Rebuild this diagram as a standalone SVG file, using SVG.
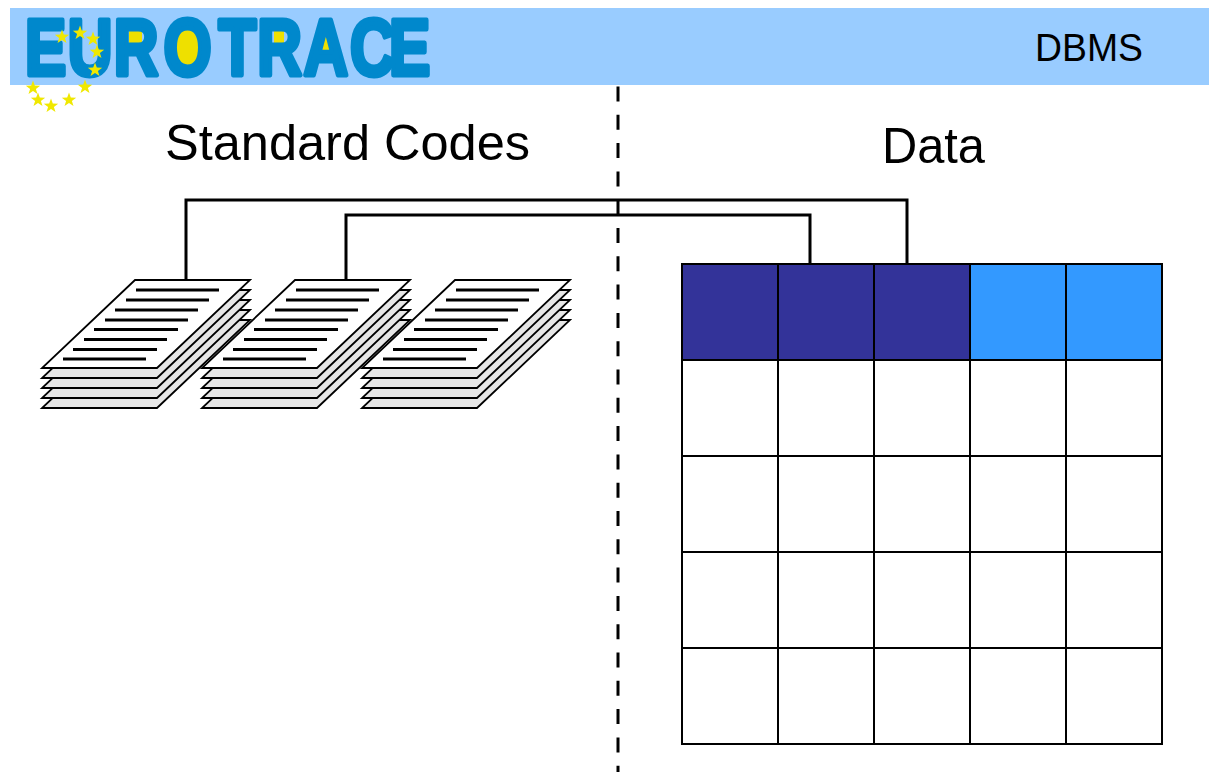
<svg xmlns="http://www.w3.org/2000/svg" width="1209" height="772" viewBox="0 0 1209 772">
<style>
.title{font-family:"Liberation Sans",Arial,sans-serif;fill:#000}
.sheet{stroke:#000;stroke-width:1.8;stroke-linejoin:miter}
.under{fill:#e6e6e6}
.top{fill:#fff}
.tl{stroke:#000;stroke-width:2.8}
.conn{fill:none;stroke:#000;stroke-width:3}
.grid{fill:none;stroke:#000;stroke-width:2}
.star{fill:#f0e800}
.ctr{fill:#eee000}
</style>
<defs>
<polygon id="star" points="0,-7.5 1.8,-2.4 7.2,-2.3 2.9,1 4.5,6.1 0,3 -4.5,6.1 -2.9,1 -7.2,-2.3 -1.8,-2.4"/>
<g id="stack">
<polygon class="sheet under" points="135,320 250,320 157,408 42,408"/>
<polygon class="sheet under" points="135,310 250,310 157,398 42,398"/>
<polygon class="sheet under" points="135,300 250,300 157,388 42,388"/>
<polygon class="sheet under" points="135,290 250,290 157,378 42,378"/>
<polygon class="sheet top" points="135,280 250,280 157,368 42,368"/>
<path class="tl" d="M136 290H219M126 300H209M115 310H198M105 320H188M94 329.5H178M84 339.5H167M73 349.5H157M63 359H146"/>
</g>
</defs>
<rect width="1209" height="772" fill="#fff"/>
<g id="header">
<rect x="10" y="8" width="1199" height="77" fill="#99ccff"/>
<rect class="ctr" x="129" y="29" width="13" height="17"/>
<ellipse class="ctr" cx="188.5" cy="47" rx="13.5" ry="18"/>
<rect class="ctr" x="274" y="30" width="10" height="16"/>
<polygon class="ctr" points="327,27 321,55 333,55"/>
<text transform="scale(0.774,1)" x="32.4 87.5 146.9 211.1 282.4 332.3 392.2 452.2 502.6" y="75.5" font-family="'Liberation Sans',Arial,sans-serif" font-weight="bold" font-size="80" fill="#0088cc" stroke="#0088cc" stroke-width="5" stroke-linejoin="round">EUROTRACE</text>
<g class="star">
<use href="#star" x="62" y="37"/>
<use href="#star" x="80" y="33"/>
<use href="#star" x="93" y="39"/>
<use href="#star" x="97" y="52"/>
<use href="#star" x="95" y="70"/>
<use href="#star" x="85" y="87"/>
<use href="#star" x="33" y="88"/>
<use href="#star" x="38" y="100"/>
<use href="#star" x="51" y="106"/>
<use href="#star" x="69" y="100"/>
</g>
<text class="title" x="1035" y="61" font-size="39" textLength="108" lengthAdjust="spacingAndGlyphs">DBMS</text>
</g>
<g id="divider">
<line x1="618" y1="86.5" x2="618" y2="772" stroke="#000" stroke-width="3" stroke-dasharray="15 13.3"/>
</g>
<g id="label-standard-codes">
<text class="title" x="165" y="160" font-size="49.5" textLength="365" lengthAdjust="spacingAndGlyphs">Standard Codes</text>
</g>
<g id="label-data">
<text class="title" x="882" y="163" font-size="50" textLength="103" lengthAdjust="spacingAndGlyphs">Data</text>
</g>
<g id="connectors">
<path class="conn" d="M186 280V200H907V264"/>
<path class="conn" d="M346 280V215H810V264"/>
</g>
<g id="stack-1"><use href="#stack"/></g>
<g id="stack-2"><use href="#stack" x="160"/></g>
<g id="stack-3"><use href="#stack" x="320"/></g>
<g id="data-table">
<rect x="682" y="264" width="288" height="96" fill="#333399"/>
<rect x="970" y="264" width="192" height="96" fill="#3399ff"/>
<rect class="grid" x="682" y="264" width="480" height="480"/>
<path class="grid" d="M778 264V744M874 264V744M970 264V744M1066 264V744M682 360H1162M682 456H1162M682 552H1162M682 648H1162"/>
</g>
</svg>
